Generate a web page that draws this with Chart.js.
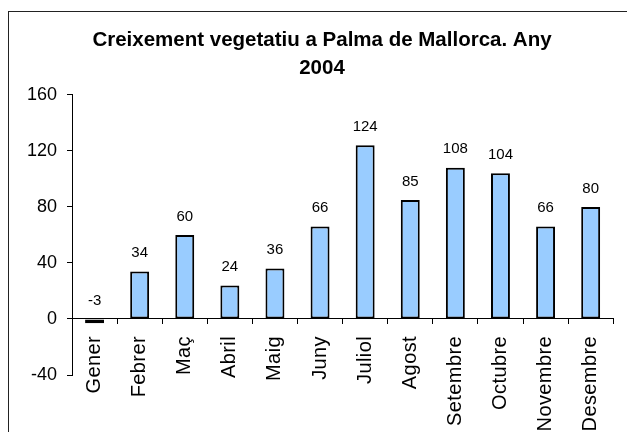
<!DOCTYPE html>
<html>
<head>
<meta charset="utf-8">
<script src="https://cdn.jsdelivr.net/npm/chart.js@4"></script>
<style>
  html, body { margin: 0; padding: 0; background: #fff; overflow: hidden; }
  #frame {
    position: absolute; left: 8px; top: 11px;
    width: 700px; height: 500px;
    border: 1.5px solid #222;
  }
  #chart { position: absolute; left: 0; top: 0; }
</style>
</head>
<body>
<div id="frame"></div>
<canvas id="chart" width="627" height="432"></canvas>
<script>
// ================= DATA =================
const months = ["Gener", "Febrer", "Maç", "Abril", "Maig", "Juny",
                "Juliol", "Agost", "Setembre", "Octubre", "Novembre", "Desembre"];
const growth = [-3, 34, 60, 24, 36, 66, 124, 85, 108, 104, 66, 80];
const yTicks = [-40, 0, 40, 80, 120, 160];
const titleLines = ["Creixement vegetatiu a Palma de Mallorca. Any", "2004"];

const FONT = "'Liberation Sans', Arial, sans-serif";

// values above the bars
const valueLabels = {
    id: "valueLabels",
    afterDatasetsDraw(chart) {
        const ctx = chart.ctx;
        const meta = chart.getDatasetMeta(0);
        ctx.save();
        ctx.font = "15px " + FONT;
        ctx.fillStyle = "#000";
        ctx.textAlign = "center";
        ctx.textBaseline = "bottom";
        meta.data.forEach((bar, i) => {
            const top = Math.min(bar.y, bar.base);
            ctx.fillText(String(growth[i]), bar.x, top - 11);
        });
        ctx.restore();
    }
};

// month labels are a bit spaced out in the original
const spacedTicks = {
    id: "spacedTicks",
    beforeDraw(chart) {
        const sc = chart.scales.x;
        if (sc._spaced) return;
        const orig = sc.drawLabels;
        sc.drawLabels = function (area) {
            this.ctx.save();
            this.ctx.letterSpacing = "0.4px";
            orig.call(this, area);
            this.ctx.restore();
        };
        sc._spaced = true;
    }
};

new Chart(document.getElementById("chart"), {
    type: "bar",
    data: {
        labels: months,
        datasets: [{
            data: growth,
            backgroundColor: "#99CCFF",
            borderColor: "#000",
            borderWidth: 2,
            borderSkipped: false,
            barPercentage: 0.42,
            categoryPercentage: 1
        }]
    },
    options: {
        responsive: false,
        animation: false,
        devicePixelRatio: 1,
        // left padding only shifts the title centre, the y axis width makes up for it
        layout: { padding: { left: 25, right: 8, top: 0, bottom: 57 } },
        plugins: {
            legend: { display: false },
            tooltip: { enabled: false },
            title: {
                display: true,
                text: titleLines,
                color: "#000",
                font: { family: FONT, size: 20.5, weight: "bold", lineHeight: 1.34 },
                padding: { top: 27, bottom: 13 }
            }
        },
        scales: {
            x: {
                position: { y: 0 },
                grid: {
                    offset: true,
                    drawOnChartArea: false,
                    drawTicks: true,
                    tickLength: 5,
                    color: "#000",
                    lineWidth: 1
                },
                border: { display: true, color: "#000", width: 1 },
                ticks: {
                    color: "#000",
                    font: { family: FONT, size: 20 },
                    minRotation: 90,
                    maxRotation: 90,
                    autoSkip: false,
                    padding: 12
                }
            },
            y: {
                min: -40,
                max: 160,
                afterBuildTicks(scale) {
                    scale.ticks = yTicks.map(v => ({ value: v }));
                },
                afterFit(scale) {
                    scale.width = 47;
                },
                grid: {
                    drawOnChartArea: false,
                    drawTicks: true,
                    tickLength: 5,
                    color: "#000",
                    lineWidth: 1
                },
                border: { display: true, color: "#000", width: 1 },
                ticks: {
                    color: "#000",
                    font: { family: FONT, size: 18 },
                    padding: 10
                }
            }
        }
    },
    plugins: [valueLabels, spacedTicks]
});
</script>
</body>
</html>
